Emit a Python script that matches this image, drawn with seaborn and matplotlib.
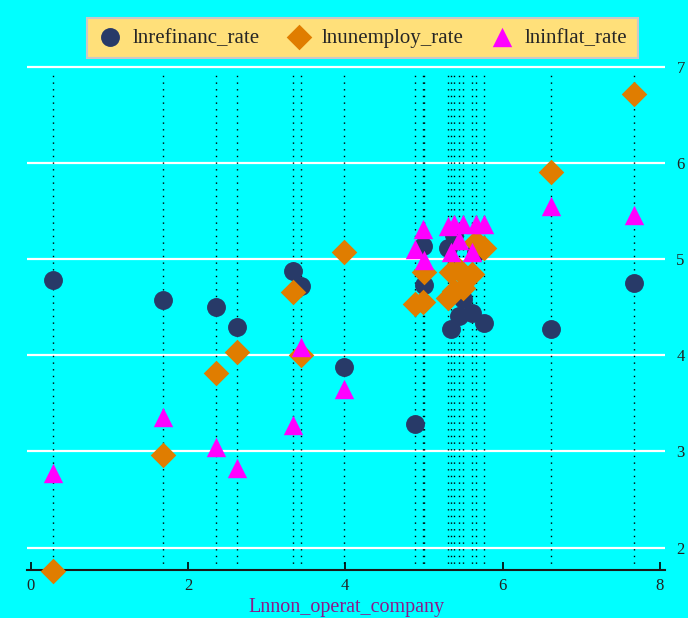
import pandas as pd
import numpy as np
import matplotlib.pyplot as plt
import seaborn as sns

# values
company = [0.28, 1.68, 2.35, 2.62, 3.34, 3.44, 3.99, 4.89, 4.99, 5.00,
           5.31, 5.34, 5.38, 5.45, 5.50, 5.61, 5.66, 5.76, 6.62, 7.67]
refinanc = [4.78, 4.57, 4.50, 4.29, 4.88, 4.72, 3.88, 3.29, 5.14, 4.73,
            5.11, 4.27, 5.25, 4.41, 4.58, 4.44, 5.07, 4.34, 4.27, 4.75]
unemploy = [1.76, 2.96, 3.82, 4.03, 4.66, 4.00, 5.07, 4.53, 4.55, 4.87,
            4.60, 4.87, 4.67, 4.89, 4.70, 4.84, 5.18, 5.12, 5.90, 6.72]
inflat = [2.78, 3.36, 3.05, 2.83, 3.28, 4.09, 3.65, 5.10, 5.31, 4.99,
          5.34, 5.07, 5.36, 5.20, 5.36, 5.07, 5.36, 5.36, 5.55, 5.46]

df = pd.DataFrame({
    'Lnnon_operat_company': company,
    'lnrefinanc_rate': refinanc,
    'lnunemploy_rate': unemploy,
    'lninflat_rate': inflat,
})

bg = '#00FFFF'
sns.set_theme(style='darkgrid', rc={
    'axes.facecolor': bg,
    'figure.facecolor': bg,
    'grid.color': 'white',
    'grid.linewidth': 1.6,
})
plt.rcParams['font.family'] = ['Liberation Serif', 'DejaVu Serif']

fig = plt.figure(figsize=(6.88, 6.18), dpi=100)
ax = fig.add_axes([0.039, 0.078, 0.928, 0.825])

ylo, yhi = 1.77, 7.07
# dotted drop lines at each x value
ax.vlines(df['Lnnon_operat_company'], ylo, 6.93, colors='black',
          linestyles=(0, (1, 3.8)), linewidth=1, zorder=1)

series = [
    ('lnrefinanc_rate', 'o', '#283A68', 185),
    ('lnunemploy_rate', 'D', '#E07D00', 170),
    ('lninflat_rate', '^', '#FF00FF', 195),
]
for name, mk, col, s in series:
    sns.scatterplot(data=df, x='Lnnon_operat_company', y=name, marker=mk,
                    color=col, s=s, linewidth=0, label=name, ax=ax,
                    zorder=3, clip_on=False)

ax.set_xlim(-0.05, 8.07)
ax.set_ylim(ylo, yhi)
ax.set_xticks([0, 2, 4, 6, 8])
ax.set_yticks([2, 3, 4, 5, 6, 7])
ax.grid(axis='x', visible=False)
ax.grid(axis='y', color='white', linewidth=1.6)

ax.yaxis.tick_right()
ax.tick_params(axis='y', length=0, labelsize=12, pad=8, labelcolor='#222222')
ax.tick_params(axis='x', direction='in', length=6, width=1.2, color='black',
               bottom=True, labelsize=12, pad=6, labelcolor='#222222')
for side in ['top', 'left', 'right']:
    ax.spines[side].set_visible(False)
ax.spines['bottom'].set_color('#1a1a1a')
ax.spines['bottom'].set_linewidth(1.5)

ax.set_xlabel('Lnnon_operat_company', fontsize=14.5, color='#8B1A8B', labelpad=3)
ax.set_ylabel('')

leg = ax.legend(loc='center', bbox_to_anchor=(0.526, 1.043), ncol=3,
                fontsize=15, frameon=True, facecolor='#FFE07A',
                edgecolor='#C8C8C8', framealpha=1, fancybox=False,
                borderpad=0.5, columnspacing=1.25, handlelength=1.2,
                handletextpad=0.5)
leg.get_frame().set_linewidth(1.5)

fig.savefig('out.png', dpi=100, facecolor=bg)
